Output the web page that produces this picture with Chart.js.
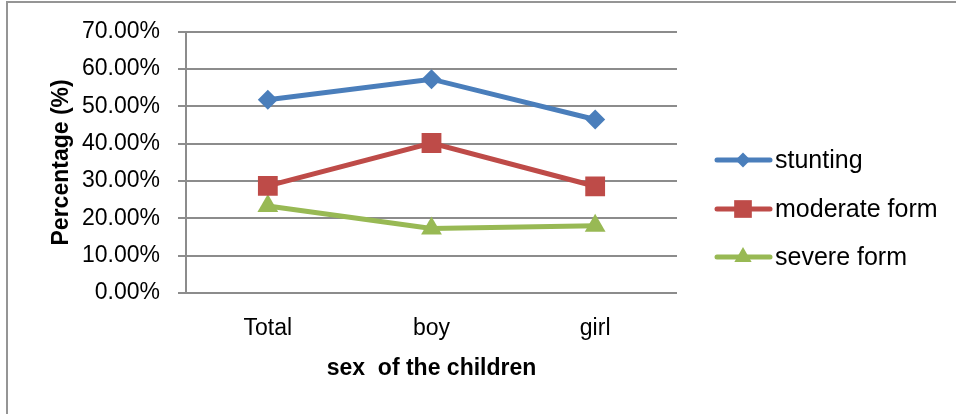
<!DOCTYPE html>
<html><head><meta charset="utf-8">
<script src="https://cdn.jsdelivr.net/npm/chart.js@4.4.1/dist/chart.umd.min.js"></script>
<style>html,body{margin:0;padding:0;background:#fff;overflow:hidden}#wrap{position:relative;width:956px;height:414px}</style>
</head><body><div id="wrap"><canvas id="c" width="956" height="414"></canvas></div>
<script>
const categories = ['Total', 'boy', 'girl'];
const seriesNames = ['stunting', 'moderate form', 'severe form'];
const stunting = [51.8, 57.3, 46.5];
const moderateForm = [28.7, 40.2, 28.6];
const severeForm = [23.3, 17.3, 18.0];
const yTicks = [0, 10, 20, 30, 40, 50, 60, 70];
const xTitle = 'sex  of the children';
const yTitle = 'Percentage (%)';

const FONT = "'Liberation Sans', Arial, sans-serif";
const colors = ['#4a7ebb', '#be4b48', '#98b954'];
const styles = ['rectRot', 'rect', 'triangle'];
const radii = [10, 14, 12];

function drawMarker(ctx, style, x, y, r) {
  ctx.beginPath();
  if (style === 'rectRot') {
    ctx.moveTo(x - r, y); ctx.lineTo(x, y - r); ctx.lineTo(x + r, y); ctx.lineTo(x, y + r);
  } else if (style === 'rect') {
    const s = r * Math.SQRT1_2; ctx.rect(x - s, y - s, 2 * s, 2 * s);
  } else {
    ctx.moveTo(x, y - r);
    ctx.lineTo(x + r * Math.sin(2 * Math.PI / 3), y - r * Math.cos(2 * Math.PI / 3));
    ctx.lineTo(x - r * Math.sin(2 * Math.PI / 3), y - r * Math.cos(2 * Math.PI / 3));
  }
  ctx.closePath(); ctx.fill();
}

const framePlugin = {
  id: 'frame',
  beforeDraw(chart) {
    const ctx = chart.ctx; ctx.save();
    ctx.fillStyle = '#fff'; ctx.fillRect(0, 0, chart.width, chart.height);
    ctx.strokeStyle = '#959595'; ctx.lineWidth = 2;
    ctx.strokeRect(7, 2, 1200, 1200);
    ctx.restore();
  }
};

const legendPlugin = {
  id: 'customLegend',
  afterDraw(chart) {
    const ctx = chart.ctx; ctx.save();
    const rows = [160, 209, 257];
    chart.data.datasets.forEach((ds, i) => {
      const y = rows[i];
      ctx.strokeStyle = ds.borderColor; ctx.lineWidth = 5; ctx.lineCap = 'round';
      ctx.beginPath(); ctx.moveTo(717, y); ctx.lineTo(770, y); ctx.stroke();
      ctx.fillStyle = ds.borderColor;
      drawMarker(ctx, ds.pointStyle, 743, y, [7.5, 12.5, 10][i]);
      ctx.fillStyle = '#000'; ctx.font = '25px ' + FONT;
      ctx.textAlign = 'left'; ctx.textBaseline = 'middle';
      ctx.fillText(ds.label, 775, y + 1);
    });
    ctx.restore();
  }
};

const seriesData = [stunting, moderateForm, severeForm];
new Chart(document.getElementById('c'), {
  type: 'line',
  data: {
    labels: categories,
    datasets: seriesNames.map((name, i) => ({
      label: name,
      data: seriesData[i],
      borderColor: colors[i],
      backgroundColor: colors[i],
      borderWidth: 5,
      pointStyle: styles[i],
      pointRadius: radii[i],
      pointHoverRadius: radii[i],
      pointBorderWidth: 0,
      pointBackgroundColor: colors[i],
      tension: 0,
      fill: false
    }))
  },
  options: {
    responsive: false,
    animation: false,
    devicePixelRatio: 1,
    layout: { padding: { left: 48, right: 279, top: 31, bottom: 0 } },
    plugins: { legend: { display: false }, tooltip: { enabled: false } },
    scales: {
      x: {
        offset: true,
        grid: { display: false, drawTicks: false },
        border: { display: false },
        ticks: { color: '#000', font: { family: FONT, size: 23 }, padding: 22, maxRotation: 0 },
        title: { display: true, text: xTitle, color: '#000', font: { family: FONT, size: 23, weight: 'bold' }, padding: 32 },
        afterFit(s) { s.height = 121; }
      },
      y: {
        min: 0, max: 70,
        afterBuildTicks(s) { s.ticks = yTicks.map(v => ({ value: v })); },
        grid: { color: '#8c8c8c', lineWidth: 2, tickLength: 8, drawTicks: true },
        border: { color: '#8c8c8c', width: 2 },
        ticks: { color: '#000', font: { family: FONT, size: 23 }, padding: 18, callback: v => v.toFixed(2) + '%' },
        title: { display: true, text: yTitle, color: '#000', font: { family: FONT, size: 23, weight: 'bold' }, padding: 0 },
        afterFit(s) { s.width = 138; }
      }
    }
  },
  plugins: [framePlugin, legendPlugin]
});
</script></body></html>
